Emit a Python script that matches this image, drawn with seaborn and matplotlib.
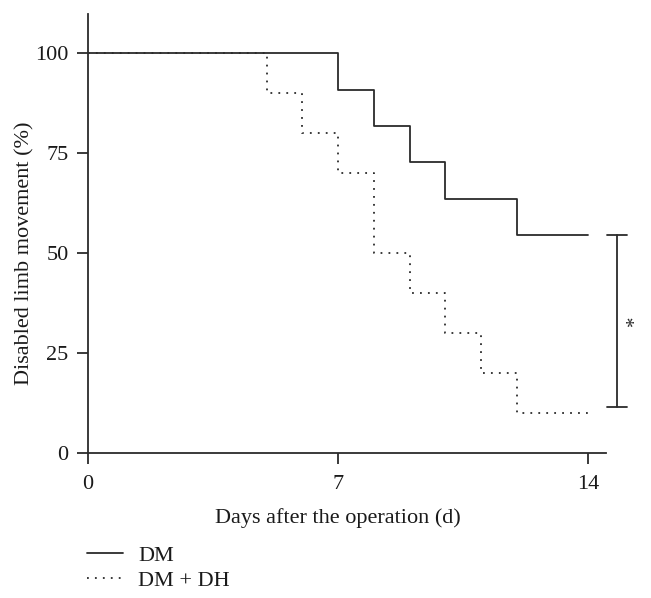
import pandas as pd
import seaborn as sns
import matplotlib.pyplot as plt

# Kaplan-Meier style steps
dm_days = [0, 7, 8, 9, 10, 12, 14]
dm_pct = [100, 90.9, 81.8, 72.7, 63.6, 54.5, 54.5]
dmdh_days = [0, 5, 6, 7, 8, 9, 10, 11, 12, 14]
dmdh_pct = [100, 90, 80, 70, 50, 40, 30, 20, 10, 10]
groups = ["DM", "DM + DH"]
x_ticks = [0, 7, 14]
y_ticks = [0, 25, 50, 75, 100]

df = pd.concat([
    pd.DataFrame({"day": dm_days, "pct": dm_pct, "group": groups[0]}),
    pd.DataFrame({"day": dmdh_days, "pct": dmdh_pct, "group": groups[1]}),
])

sns.set_style("ticks")
plt.rcParams["font.family"] = ["Liberation Serif", "DejaVu Serif"]
ink = "#2b2b2b"
txt = "#1a1a1a"
fs = 16

fig = plt.figure(figsize=(6.51, 5.98), dpi=100)
ax = fig.add_axes([88 / 651, 1 - 453 / 598, (606 - 88) / 651, (453 - 14) / 598])

sns.lineplot(data=df, x="day", y="pct", style="group", style_order=groups,
             dashes={"DM": "", "DM + DH": (1, 3.4)}, color=ink, linewidth=1.3,
             drawstyle="steps-post", estimator=None, legend=False, ax=ax)

xmax, ymax = 14.5, 109.8
ax.set_xlim(0, xmax)
ax.set_ylim(0, ymax)
ax.set_xticks(x_ticks)
ax.set_yticks(y_ticks)
ax.tick_params(labelsize=fs, length=8, width=1.3, color=ink, labelcolor=txt)
ax.tick_params(axis="x", pad=8)
ax.tick_params(axis="y", pad=6)
for side in ["top", "right"]:
    ax.spines[side].set_visible(False)
for side in ["left", "bottom"]:
    ax.spines[side].set_linewidth(1.3)
    ax.spines[side].set_color(ink)

ax.set_xlabel("Days after the operation (d)", fontsize=fs, color=txt)
ax.set_ylabel("Disabled limb movement (%)", fontsize=fs, color=txt)
# labels centred on the tick range rather than the full axis
ax.xaxis.set_label_coords(x_ticks[-1] / 2 / xmax, -0.125)
ax.yaxis.set_label_coords(-0.104, y_ticks[-1] / 2 / ymax)

# significance bracket between the end values
top = dm_pct[-1]
bot = dmdh_pct[-1] + 1.5
bx = 14.82
ax.plot([bx, bx], [bot, top], color=ink, lw=1.3, clip_on=False)
ax.plot([bx - 0.28, bx + 0.28], [top, top], color=ink, lw=1.3, clip_on=False)
ax.plot([bx - 0.28, bx + 0.28], [bot, bot], color=ink, lw=1.3, clip_on=False)
ax.text(bx + 0.5, (top + bot) / 2, "*", rotation=90, fontsize=15,
        ha="center", va="center", color=ink, clip_on=False)

handles = [plt.Line2D([], [], color=ink, lw=1.3),
           plt.Line2D([], [], color=ink, lw=1.3, linestyle=(0, (1, 3.4)))]
fig.legend(handles, groups, loc="upper left", bbox_to_anchor=(87 / 651, 1 - 545 / 598),
           frameon=False, fontsize=fs, handlelength=1.6, handletextpad=0.7,
           labelspacing=0.2, borderpad=0, borderaxespad=0, labelcolor=txt)

fig.savefig("out.png", dpi=100)
